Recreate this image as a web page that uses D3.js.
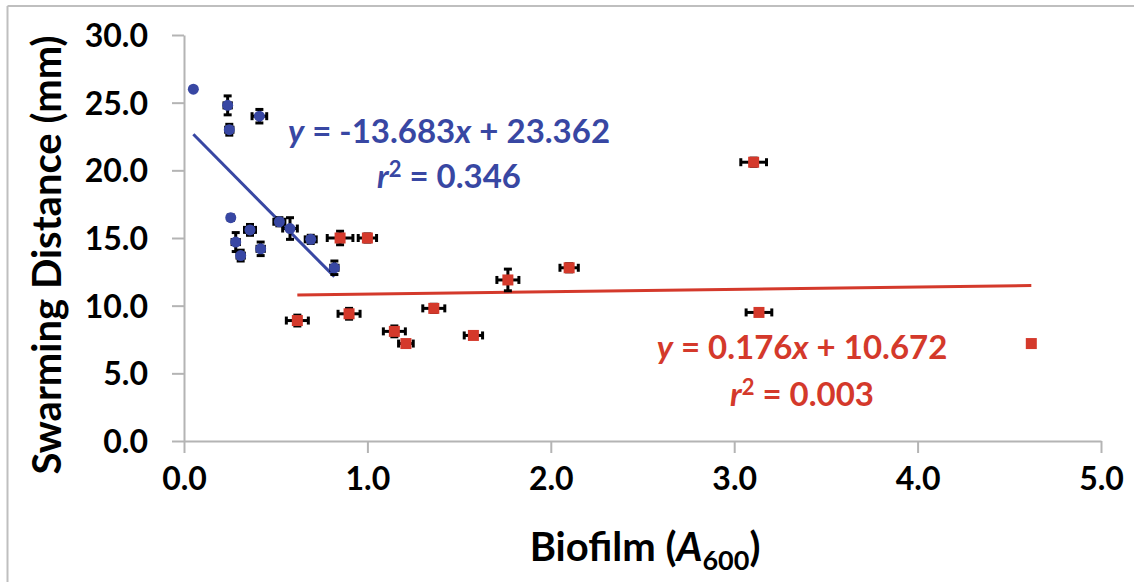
<!DOCTYPE html>
<html>
<head>
<meta charset="utf-8">
<script src="https://cdn.jsdelivr.net/npm/d3@7"></script>
<style>
  body { margin: 0; background: #fff; }
  text { font-family: Lato, "Open Sans", sans-serif; font-weight: bold; }
</style>
</head>
<body>
<div id="scatter"></div>
<script>
// data
// blue strains (circles): x = biofilm A600, y = swarming distance (mm)
var blueX    = [0.051, 0.238, 0.247, 0.411, 0.255, 0.282, 0.309, 0.360, 0.418, 0.520, 0.578, 0.691, 0.820];
var blueY    = [26.0, 24.8, 23.0, 24.0, 16.5, 14.7, 13.7, 15.6, 14.2, 16.2, 15.7, 14.9, 12.8];
var blueXErr = [0.00, 0.02, 0.02, 0.04, 0.00, 0.02, 0.02, 0.03, 0.02, 0.03, 0.04, 0.03, 0.02];
var blueYErr = [0.0, 0.7, 0.4, 0.5, 0.2, 0.7, 0.4, 0.4, 0.5, 0.3, 0.8, 0.3, 0.5];

// red strains (squares)
var redX    = [0.618, 0.851, 1.000, 0.900, 1.147, 1.210, 1.362, 1.578, 1.766, 2.100, 3.106, 3.135, 4.620];
var redY    = [8.9, 15.0, 15.0, 9.4, 8.1, 7.2, 9.8, 7.8, 11.9, 12.8, 20.6, 9.5, 7.2];
var redXErr = [0.06, 0.07, 0.05, 0.06, 0.06, 0.04, 0.06, 0.05, 0.06, 0.05, 0.07, 0.07, 0.00];
var redYErr = [0.4, 0.5, 0.3, 0.4, 0.4, 0.2, 0.3, 0.0, 0.8, 0.3, 0.3, 0.0, 0.0];

// linear trendlines: slope, intercept, r^2
var blueFit = [-13.683, 23.362, 0.346];
var redFit  = [0.176, 10.672, 0.003];

var xTicks = [0, 1, 2, 3, 4, 5];
var yTicks = [0, 5, 10, 15, 20, 25, 30];

var blueColor = "#3847a3";
var redColor  = "#d4392b";

//define chart area
var svgWidth = 1134;
var svgHeight = 582;

var margin = { top: 35, right: 33, bottom: 141, left: 184 };
var width  = svgWidth - margin.left - margin.right;
var height = svgHeight - margin.top - margin.bottom;

var svg = d3.select("#scatter")
  .append("svg")
  .attr("width", svgWidth)
  .attr("height", svgHeight);

// frame (top and left edges only, the picture is cropped)
svg.append("line").attr("x1", 7.5).attr("x2", svgWidth).attr("y1", 6).attr("y2", 6)
  .attr("stroke", "#bfbfbf").attr("stroke-width", 2);
svg.append("line").attr("x1", 7.5).attr("x2", 7.5).attr("y1", 6).attr("y2", svgHeight)
  .attr("stroke", "#bfbfbf").attr("stroke-width", 2);

var chartGroup = svg.append("g")
  .attr("transform", `translate(${margin.left}, ${margin.top})`);

var xScale = d3.scaleLinear().domain([0, 5]).range([0, width]);
var yScale = d3.scaleLinear().domain([0, 30]).range([height, 0]);

var bottomAxis = d3.axisBottom(xScale).tickValues(xTicks).tickFormat(d3.format(".1f"))
  .tickSize(12).tickSizeOuter(0).tickPadding(14);
var leftAxis = d3.axisLeft(yScale).tickValues(yTicks).tickFormat(d3.format(".1f"))
  .tickSize(12).tickSizeOuter(0).tickPadding(24);

var xAxis = chartGroup.append("g")
  .attr("transform", `translate(0, ${height})`)
  .call(bottomAxis);
var yAxis = chartGroup.append("g").call(leftAxis);

[xAxis, yAxis].forEach(function(ax) {
  ax.select(".domain").attr("stroke", "#b4b4b4").attr("stroke-width", 2);
  ax.selectAll(".tick line").attr("stroke", "#b4b4b4").attr("stroke-width", 2);
  ax.selectAll(".tick text").attr("fill", "#000").style("font-size", "32px")
    .style("font-family", "Lato, sans-serif").style("font-weight", "bold");
});
yAxis.selectAll(".tick text").attr("dy", "0.36em");
xAxis.selectAll(".tick text").attr("dy", "0.71em");

// trendlines over the x range of each group
function drawFit(xs, fit, color) {
  var ext = d3.extent(xs);
  chartGroup.append("line")
    .attr("x1", xScale(ext[0])).attr("y1", yScale(fit[0] * ext[0] + fit[1]))
    .attr("x2", xScale(ext[1])).attr("y2", yScale(fit[0] * ext[1] + fit[1]))
    .attr("stroke", color).attr("stroke-width", 3);
}

// error bars with caps
function drawErrors(xs, ys, xe, ye) {
  var g = chartGroup.append("g").attr("stroke", "#000").attr("stroke-width", 3);
  var cap = 4;
  xs.forEach(function(x, i) {
    var cx = xScale(x), cy = yScale(ys[i]);
    if (xe[i] > 0) {
      var x0 = xScale(x - xe[i]), x1 = xScale(x + xe[i]);
      g.append("line").attr("x1", x0).attr("x2", x1).attr("y1", cy).attr("y2", cy);
      g.append("line").attr("x1", x0).attr("x2", x0).attr("y1", cy - cap).attr("y2", cy + cap);
      g.append("line").attr("x1", x1).attr("x2", x1).attr("y1", cy - cap).attr("y2", cy + cap);
    }
    if (ye[i] > 0) {
      var y0 = yScale(ys[i] - ye[i]), y1 = yScale(ys[i] + ye[i]);
      g.append("line").attr("x1", cx).attr("x2", cx).attr("y1", y0).attr("y2", y1);
      g.append("line").attr("x1", cx - cap).attr("x2", cx + cap).attr("y1", y0).attr("y2", y0);
      g.append("line").attr("x1", cx - cap).attr("x2", cx + cap).attr("y1", y1).attr("y2", y1);
    }
  });
}

drawFit(blueX, blueFit, blueColor);
drawFit(redX, redFit, redColor);

drawErrors(blueX, blueY, blueXErr, blueYErr);
drawErrors(redX, redY, redXErr, redYErr);

// markers
chartGroup.selectAll(".blue-dot")
  .data(blueX)
  .enter()
  .append("circle")
  .attr("cx", d => xScale(d))
  .attr("cy", (d, i) => yScale(blueY[i]))
  .attr("r", 5.5)
  .attr("fill", blueColor);

chartGroup.selectAll(".red-dot")
  .data(redX)
  .enter()
  .append("rect")
  .attr("x", d => xScale(d) - 5.5)
  .attr("y", (d, i) => yScale(redY[i]) - 5.5)
  .attr("width", 11)
  .attr("height", 11)
  .attr("fill", redColor);

// trendline labels
var fmt = d3.format(".3f");
function fitLabel(fit, color, cx, y1, y2) {
  var slope = (fit[0] < 0 ? "-" : "") + fmt(Math.abs(fit[0]));
  var sign = fit[1] < 0 ? " - " : " + ";
  var t1 = svg.append("text").attr("x", cx).attr("y", y1)
    .attr("text-anchor", "middle").attr("fill", color).style("font-size", "33px");
  t1.append("tspan").style("font-style", "italic").text("y");
  t1.append("tspan").text(" = " + slope);
  t1.append("tspan").style("font-style", "italic").text("x");
  t1.append("tspan").text(sign + fmt(Math.abs(fit[1])));

  var t2 = svg.append("text").attr("x", cx).attr("y", y2)
    .attr("text-anchor", "middle").attr("fill", color).style("font-size", "33px");
  t2.append("tspan").style("font-style", "italic").text("r");
  t2.append("tspan").attr("dy", -11).style("font-size", "22px").text("2");
  t2.append("tspan").attr("dy", 11).text(" = " + fmt(fit[2]));
}

fitLabel(blueFit, blueColor, 449, 143, 188);
fitLabel(redFit, redColor, 802, 359, 406);

// axis titles
var xTitle = svg.append("text")
  .attr("x", 645)
  .attr("y", 561)
  .attr("text-anchor", "middle")
  .attr("fill", "#000")
  .style("font-size", "40px");
xTitle.append("tspan").text("Biofilm (");
xTitle.append("tspan").style("font-style", "italic").text("A");
xTitle.append("tspan").attr("dy", 9).style("font-size", "27px").text("600");
xTitle.append("tspan").attr("dy", -9).text(")");

svg.append("text")
  .attr("transform", "rotate(-90)")
  .attr("x", -255)
  .attr("y", 61)
  .attr("text-anchor", "middle")
  .attr("fill", "#000")
  .style("font-size", "40px")
  .text("Swarming Distance (mm)");
</script>
</body>
</html>
